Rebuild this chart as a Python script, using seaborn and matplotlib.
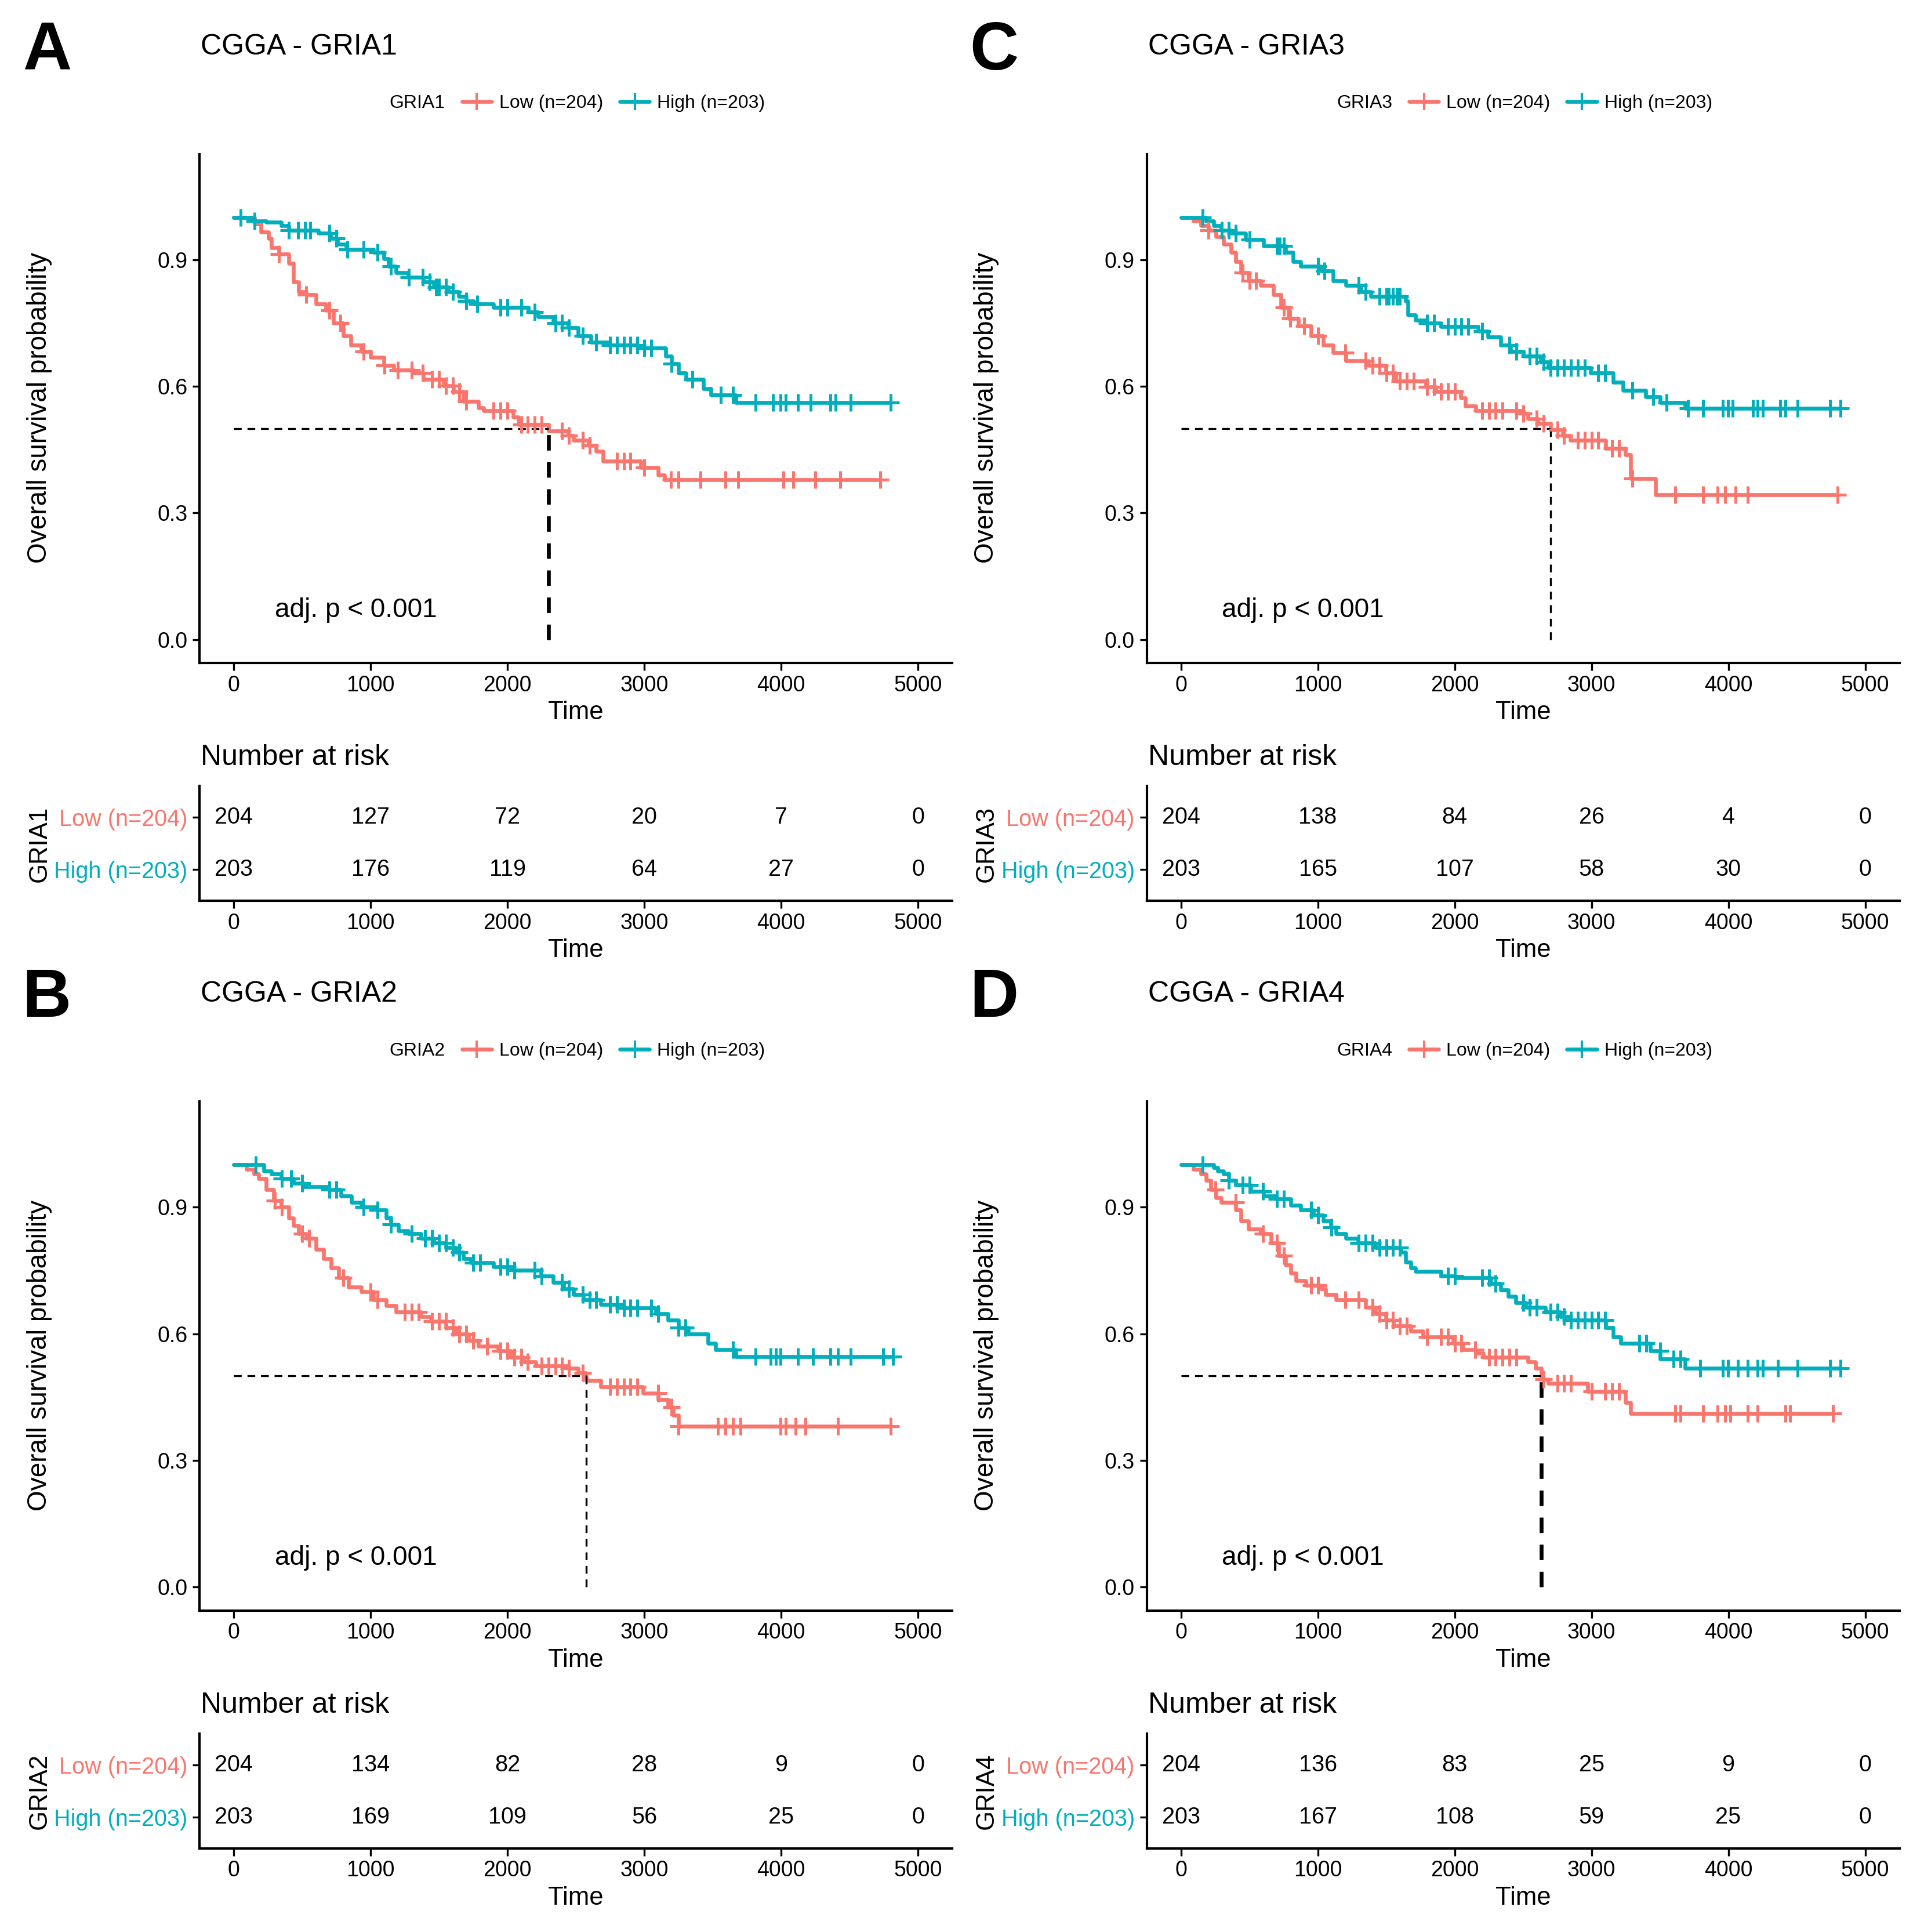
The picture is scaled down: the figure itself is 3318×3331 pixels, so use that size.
import numpy as np
import matplotlib
matplotlib.use("Agg")
import matplotlib.pyplot as plt
from matplotlib.lines import Line2D
import seaborn as sns

sns.set_theme(style="ticks")
plt.rcParams['font.family'] = ['Liberation Sans', 'DejaVu Sans']
plt.rcParams.update({'text.color': 'black', 'axes.labelcolor': 'black',
                     'xtick.color': 'black', 'ytick.color': 'black'})

RED = '#F8766D'
TEAL = '#00AFBB'

genes = ['GRIA1', 'GRIA2', 'GRIA3', 'GRIA4']
letters = ['A', 'B', 'C', 'D']
risk_times = [0, 1000, 2000, 3000, 4000, 5000]
n_low = 204
n_high = 203

# ---- GRIA1 ----
a_low_t = [150, 200, 255, 275, 330, 400, 438, 475, 530, 600, 675, 730, 800, 857, 930, 1000, 1095, 1168,
           1314, 1387, 1533, 1606, 1679, 1788, 1825, 2044, 2080, 2300, 2445, 2482, 2591, 2646, 2700,
           2974, 3102, 3150]
a_low_s = [0.984, 0.965, 0.95, 0.928, 0.913, 0.891, 0.847, 0.824, 0.817, 0.795, 0.78, 0.75, 0.72, 0.698,
           0.683, 0.668, 0.65, 0.639, 0.631, 0.616, 0.601, 0.587, 0.564, 0.549, 0.542, 0.527, 0.509, 0.494,
           0.483, 0.472, 0.46, 0.446, 0.423, 0.408, 0.39, 0.379]
a_low_c = [330, 530, 700, 780, 950, 1100, 1200, 1300, 1380, 1450, 1500, 1550, 1600, 1650, 1700, 1900, 1950,
           2000, 2100, 2150, 2200, 2250, 2400, 2450, 2550, 2600, 2800, 2850, 2900, 3000, 3193, 3248, 3412,
           3595, 3686, 4015, 4088, 4252, 4434, 4726]
a_high_t = [128, 237, 347, 400, 620, 712, 760, 821, 1022, 1095, 1130, 1186, 1277, 1387, 1460, 1569, 1642,
            1697, 1752, 1898, 2153, 2226, 2336, 2445, 2518, 2609, 2737, 2956, 3157, 3200, 3248, 3303, 3431,
            3485, 3668]
a_high_s = [0.991, 0.988, 0.98, 0.969, 0.962, 0.95, 0.936, 0.924, 0.917, 0.902, 0.884, 0.869, 0.858, 0.847,
            0.835, 0.824, 0.813, 0.802, 0.795, 0.787, 0.776, 0.765, 0.75, 0.739, 0.72, 0.705, 0.698, 0.69,
            0.672, 0.653, 0.631, 0.616, 0.594, 0.579, 0.562]
a_high_c = [50, 150, 400, 470, 520, 560, 700, 750, 830, 950, 1050, 1150, 1280, 1380, 1430, 1480, 1500, 1550,
            1600, 1700, 1780, 1950, 2000, 2100, 2200, 2350, 2400, 2450, 2550, 2650, 2750, 2800, 2850, 2900,
            2950, 3000, 3050, 3200, 3350, 3558, 3650, 3814, 3942, 3996, 4033, 4124, 4215, 4361, 4398, 4507,
            4799]
a_risk_low = [204, 127, 72, 20, 7, 0]
a_risk_high = [203, 176, 119, 64, 27, 0]
a_median = 2300

# ---- GRIA2 ----
b_low_t = [91, 146, 182, 237, 292, 347, 401, 438, 474, 529, 602, 657, 712, 766, 839, 931, 1022, 1113, 1186,
           1369, 1442, 1551, 1624, 1715, 1788, 1934, 2026, 2117, 2208, 2445, 2518, 2577, 2682, 2993, 3102,
           3175, 3210, 3248]
b_low_s = [0.989, 0.978, 0.967, 0.941, 0.915, 0.9, 0.874, 0.856, 0.837, 0.826, 0.8, 0.778, 0.756, 0.733,
           0.711, 0.7, 0.681, 0.667, 0.652, 0.641, 0.63, 0.615, 0.6, 0.585, 0.57, 0.559, 0.544, 0.533, 0.524,
           0.519, 0.507, 0.489, 0.474, 0.459, 0.444, 0.426, 0.407, 0.381]
b_low_c = [300, 350, 500, 550, 800, 1000, 1050, 1250, 1300, 1350, 1450, 1500, 1550, 1600, 1650, 1700, 1750,
           1850, 1950, 2000, 2050, 2100, 2150, 2250, 2300, 2350, 2400, 2450, 2550, 2750, 2800, 2850, 2900,
           2950, 3100, 3200, 3250, 3540, 3595, 3650, 3704, 3996, 4033, 4106, 4179, 4416, 4799]
b_high_t = [219, 274, 347, 438, 511, 693, 785, 858, 931, 1040, 1113, 1150, 1204, 1277, 1369, 1460, 1551,
            1624, 1679, 1734, 1898, 2044, 2245, 2336, 2409, 2482, 2555, 2682, 2847, 3084, 3175, 3248, 3321,
            3467, 3522, 3668]
b_high_s = [0.985, 0.978, 0.967, 0.956, 0.948, 0.941, 0.926, 0.911, 0.9, 0.893, 0.874, 0.859, 0.844, 0.837,
            0.826, 0.815, 0.804, 0.793, 0.778, 0.769, 0.759, 0.75, 0.737, 0.722, 0.707, 0.693, 0.681, 0.67,
            0.661, 0.648, 0.633, 0.615, 0.6, 0.578, 0.563, 0.546]
b_high_c = [160, 350, 420, 500, 700, 750, 950, 1050, 1150, 1300, 1400, 1450, 1500, 1550, 1600, 1650, 1750,
            1800, 1950, 2000, 2050, 2200, 2250, 2400, 2450, 2550, 2600, 2650, 2750, 2800, 2850, 2900, 2950,
            3050, 3100, 3250, 3300, 3650, 3814, 3923, 3960, 3996, 4124, 4234, 4361, 4416, 4507, 4745, 4818]
b_risk_low = [204, 134, 82, 28, 9, 0]
b_risk_high = [203, 169, 109, 56, 25, 0]
b_median = 2577

# ---- GRIA3 ----
c_low_t = [91, 146, 200, 255, 310, 365, 401, 438, 493, 584, 675, 730, 785, 858, 949, 1040, 1113, 1204,
           1369, 1496, 1569, 1788, 1861, 2044, 2080, 2153, 2500, 2536, 2609, 2700, 2792, 2847, 3102, 3248,
           3285, 3467]
c_low_s = [0.992, 0.98, 0.969, 0.954, 0.936, 0.917, 0.895, 0.869, 0.85, 0.839, 0.817, 0.787, 0.761, 0.743,
           0.72, 0.698, 0.679, 0.661, 0.65, 0.631, 0.613, 0.598, 0.587, 0.572, 0.553, 0.542, 0.535, 0.523,
           0.512, 0.497, 0.483, 0.472, 0.453, 0.438, 0.382, 0.343]
c_low_c = [200, 450, 500, 550, 750, 800, 900, 1000, 1200, 1350, 1400, 1450, 1500, 1550, 1600, 1650, 1700,
           1800, 1850, 1900, 1950, 2000, 2200, 2250, 2300, 2350, 2450, 2500, 2600, 2650, 2750, 2800, 2900,
           2950, 3000, 3050, 3150, 3200, 3300, 3613, 3814, 3923, 3978, 4051, 4142, 4799]
c_high_t = [182, 237, 292, 365, 474, 602, 766, 821, 876, 1022, 1113, 1204, 1314, 1387, 1642, 1660, 1715,
            1788, 1898, 2172, 2245, 2336, 2409, 2500, 2628, 2682, 2993, 3157, 3230, 3394, 3504, 3686]
c_high_s = [0.991, 0.98, 0.969, 0.962, 0.947, 0.932, 0.917, 0.895, 0.884, 0.873, 0.85, 0.839, 0.824, 0.813,
            0.802, 0.769, 0.757, 0.75, 0.741, 0.731, 0.717, 0.698, 0.683, 0.672, 0.657, 0.644, 0.631, 0.609,
            0.59, 0.575, 0.561, 0.548]
c_high_c = [160, 300, 350, 400, 500, 700, 720, 750, 1000, 1050, 1300, 1350, 1450, 1500, 1520, 1550, 1580,
            1600, 1800, 1850, 1950, 2000, 2050, 2100, 2200, 2400, 2450, 2550, 2600, 2650, 2700, 2750, 2800,
            2850, 2900, 2950, 3050, 3100, 3300, 3450, 3550, 3704, 3814, 3960, 3996, 4033, 4179, 4215, 4252,
            4380, 4416, 4507, 4745, 4818]
c_risk_low = [204, 138, 84, 26, 4, 0]
c_risk_high = [203, 165, 107, 58, 30, 0]
c_median = 2700

# ---- GRIA4 ----
d_low_t = [91, 146, 182, 219, 255, 292, 401, 438, 493, 584, 657, 712, 766, 803, 839, 912, 1022, 1058, 1131,
           1350, 1423, 1496, 1551, 1679, 1770, 1989, 2062, 2153, 2208, 2536, 2591, 2635, 2682, 2974, 3248,
           3285]
d_low_s = [0.989, 0.978, 0.963, 0.941, 0.922, 0.911, 0.893, 0.867, 0.848, 0.837, 0.815, 0.785, 0.763, 0.744,
           0.726, 0.715, 0.707, 0.693, 0.681, 0.663, 0.648, 0.633, 0.619, 0.607, 0.593, 0.578, 0.563, 0.554,
           0.544, 0.533, 0.519, 0.493, 0.483, 0.463, 0.437, 0.411]
d_low_c = [250, 400, 600, 700, 750, 950, 1000, 1200, 1300, 1400, 1450, 1500, 1550, 1600, 1650, 1800, 1900,
           1950, 2000, 2050, 2150, 2250, 2300, 2350, 2400, 2450, 2650, 2750, 2800, 2850, 3000, 3100, 3150,
           3200, 3613, 3650, 3814, 3923, 3978, 4015, 4142, 4215, 4416, 4452, 4763]
d_high_t = [237, 270, 310, 347, 401, 511, 602, 693, 803, 876, 967, 1040, 1095, 1131, 1204, 1296, 1423, 1606,
            1642, 1679, 1715, 1898, 2007, 2263, 2336, 2391, 2445, 2518, 2664, 2774, 2847, 3102, 3157, 3212,
            3431, 3504, 3686]
d_high_s = [0.993, 0.985, 0.978, 0.963, 0.952, 0.937, 0.926, 0.919, 0.904, 0.893, 0.881, 0.867, 0.852,
            0.837, 0.826, 0.815, 0.804, 0.793, 0.77, 0.756, 0.748, 0.737, 0.733, 0.719, 0.704, 0.689, 0.674,
            0.663, 0.652, 0.641, 0.633, 0.615, 0.593, 0.578, 0.559, 0.541, 0.519]
d_high_c = [160, 350, 450, 500, 600, 700, 750, 950, 1000, 1100, 1300, 1350, 1400, 1450, 1500, 1550, 1600,
            1950, 2000, 2200, 2250, 2300, 2500, 2550, 2600, 2700, 2750, 2800, 2850, 2900, 2950, 3000, 3050,
            3100, 3350, 3400, 3500, 3600, 3650, 3796, 3960, 3996, 4069, 4142, 4215, 4252, 4361, 4507, 4745,
            4818]
d_risk_low = [204, 136, 83, 25, 9, 0]
d_risk_high = [203, 167, 108, 59, 25, 0]
d_median = 2635

panels = {
    'A': (a_low_t, a_low_s, a_low_c, a_high_t, a_high_s, a_high_c, a_risk_low, a_risk_high, a_median),
    'B': (b_low_t, b_low_s, b_low_c, b_high_t, b_high_s, b_high_c, b_risk_low, b_risk_high, b_median),
    'C': (c_low_t, c_low_s, c_low_c, c_high_t, c_high_s, c_high_c, c_risk_low, c_risk_high, c_median),
    'D': (d_low_t, d_low_s, d_low_c, d_high_t, d_high_s, d_high_c, d_risk_low, d_risk_high, d_median),
}

# layout (figure fractions, measured on a 1562x1568 view)
W, H = 1562.0, 1568.0
col_left = {'A': 162 / W, 'B': 162 / W, 'C': 931 / W, 'D': 931 / W}
row_off = {'A': 0.0, 'C': 0.0, 'B': 769 / H, 'D': 769 / H}
median_vlw = {'A': 1.6, 'B': 0.8, 'C': 0.8, 'D': 1.6}
AX_W = 611 / W


def step_curve(t, s, cens):
    t_end = max(max(cens), t[-1])
    tt = np.concatenate([[0], t, [t_end]])
    ss = np.concatenate([[1.0], s, [s[-1]]])
    return tt, ss


def surv_at(t, s, x):
    idx = np.searchsorted(np.asarray(t), np.asarray(x), side='right') - 1
    vals = np.concatenate([[1.0], s])
    return vals[idx + 1]


fig = plt.figure(figsize=(3318 / 300, 3331 / 300), dpi=300)

for letter, gene in zip(letters, genes):
    low_t, low_s, low_c, high_t, high_s, high_c, r_low, r_high, med = panels[letter]
    x0 = col_left[letter]
    off = row_off[letter]
    xl = x0 + AX_W / 2
    xlab = x0 - 130 / W

    ax = fig.add_axes([x0, 1 - 538 / H - off, AX_W, 413 / H])
    for t, s, c, col in [(low_t, low_s, low_c, RED), (high_t, high_s, high_c, TEAL)]:
        tt, ss = step_curve(t, s, c)
        sns.lineplot(x=tt, y=ss, drawstyle='steps-post', estimator=None, sort=False,
                     color=col, lw=1.6, ax=ax)
        sns.scatterplot(x=c, y=surv_at(t, s, c), marker='+', s=55, color=col,
                        linewidth=1.2, ax=ax, zorder=3)
    ax.plot([0, med], [0.5, 0.5], ls=(0, (4, 3)), color='black', lw=0.8)
    ax.plot([med, med], [0, 0.5], ls=(0, (4, 3)), color='black', lw=median_vlw[letter])
    ax.text(300, 0.07, 'adj. p < 0.001', fontsize=11, ha='left', va='center')
    ax.set_xlim(-250, 5250)
    ax.set_ylim(-0.055, 1.15)
    ax.set_xticks(risk_times)
    ax.set_yticks([0.0, 0.3, 0.6, 0.9])
    ax.set_yticklabels(['0.0', '0.3', '0.6', '0.9'])
    ax.set_xlabel('Time', fontsize=10.5, labelpad=2)
    ax.set_ylabel('')
    ax.tick_params(labelsize=9, length=3, width=0.8, colors='black', pad=2)
    for sp in ['top', 'right']:
        ax.spines[sp].set_visible(False)
    for sp in ['left', 'bottom']:
        ax.spines[sp].set_linewidth(1.0)
        ax.spines[sp].set_color('black')

    fig.text(xlab, 1 - 331 / H - off, 'Overall survival probability', rotation=90,
             fontsize=11, ha='center', va='center')

    # panel letter, title, legend
    fig.text(x0 - 124 / W, 1 - 42 / H - off, letter, fontsize=28,
             fontweight='bold', ha='center', va='center')
    fig.text(x0 + 1 / W, 1 - 38 / H - off, f'CGGA - {gene}', fontsize=12, ha='left', va='center')
    handles = [Line2D([], [], color='none'),
               Line2D([], [], color=RED, marker='+', lw=1.6, markersize=7),
               Line2D([], [], color=TEAL, marker='+', lw=1.6, markersize=7)]
    fig.legend(handles, [gene, f'Low (n={n_low})', f'High (n={n_high})'], ncol=3,
               loc='center', bbox_to_anchor=(xl - 14 / W, 1 - 84 / H - off), frameon=False,
               fontsize=7.7, handlelength=1.6, handletextpad=0.4, columnspacing=0.9)

    # risk table
    fig.text(x0 + 1 / W, 1 - 615 / H - off, 'Number at risk', fontsize=12, ha='left', va='center')
    rax = fig.add_axes([x0, 1 - 731 / H - off, AX_W, 93 / H])
    for yv, vals in [(2, r_low), (1, r_high)]:
        for xt, v in zip(risk_times, vals):
            rax.text(xt, yv, str(v), fontsize=9.5, ha='center', va='center')
    rax.set_xlim(-250, 5250)
    rax.set_ylim(0.4, 2.6)
    rax.set_xticks(risk_times)
    rax.set_yticks([1, 2])
    rax.set_yticklabels([f'High (n={n_high})', f'Low (n={n_low})'])
    for lab, col in zip(rax.get_yticklabels(), [TEAL, RED]):
        lab.set_color(col)
    rax.tick_params(axis='y', labelsize=9.5, length=3, width=0.8, pad=2)
    rax.tick_params(axis='x', labelsize=9, length=3, width=0.8, pad=2)
    rax.set_xlabel('Time', fontsize=10.5, labelpad=2)
    for sp in ['top', 'right']:
        rax.spines[sp].set_visible(False)
    for sp in ['left', 'bottom']:
        rax.spines[sp].set_linewidth(1.0)
        rax.spines[sp].set_color('black')
    fig.text(xlab, 1 - 685 / H - off, gene, rotation=90, fontsize=10.5, ha='center', va='center')

fig.savefig('out.png', dpi=300, facecolor='white')
